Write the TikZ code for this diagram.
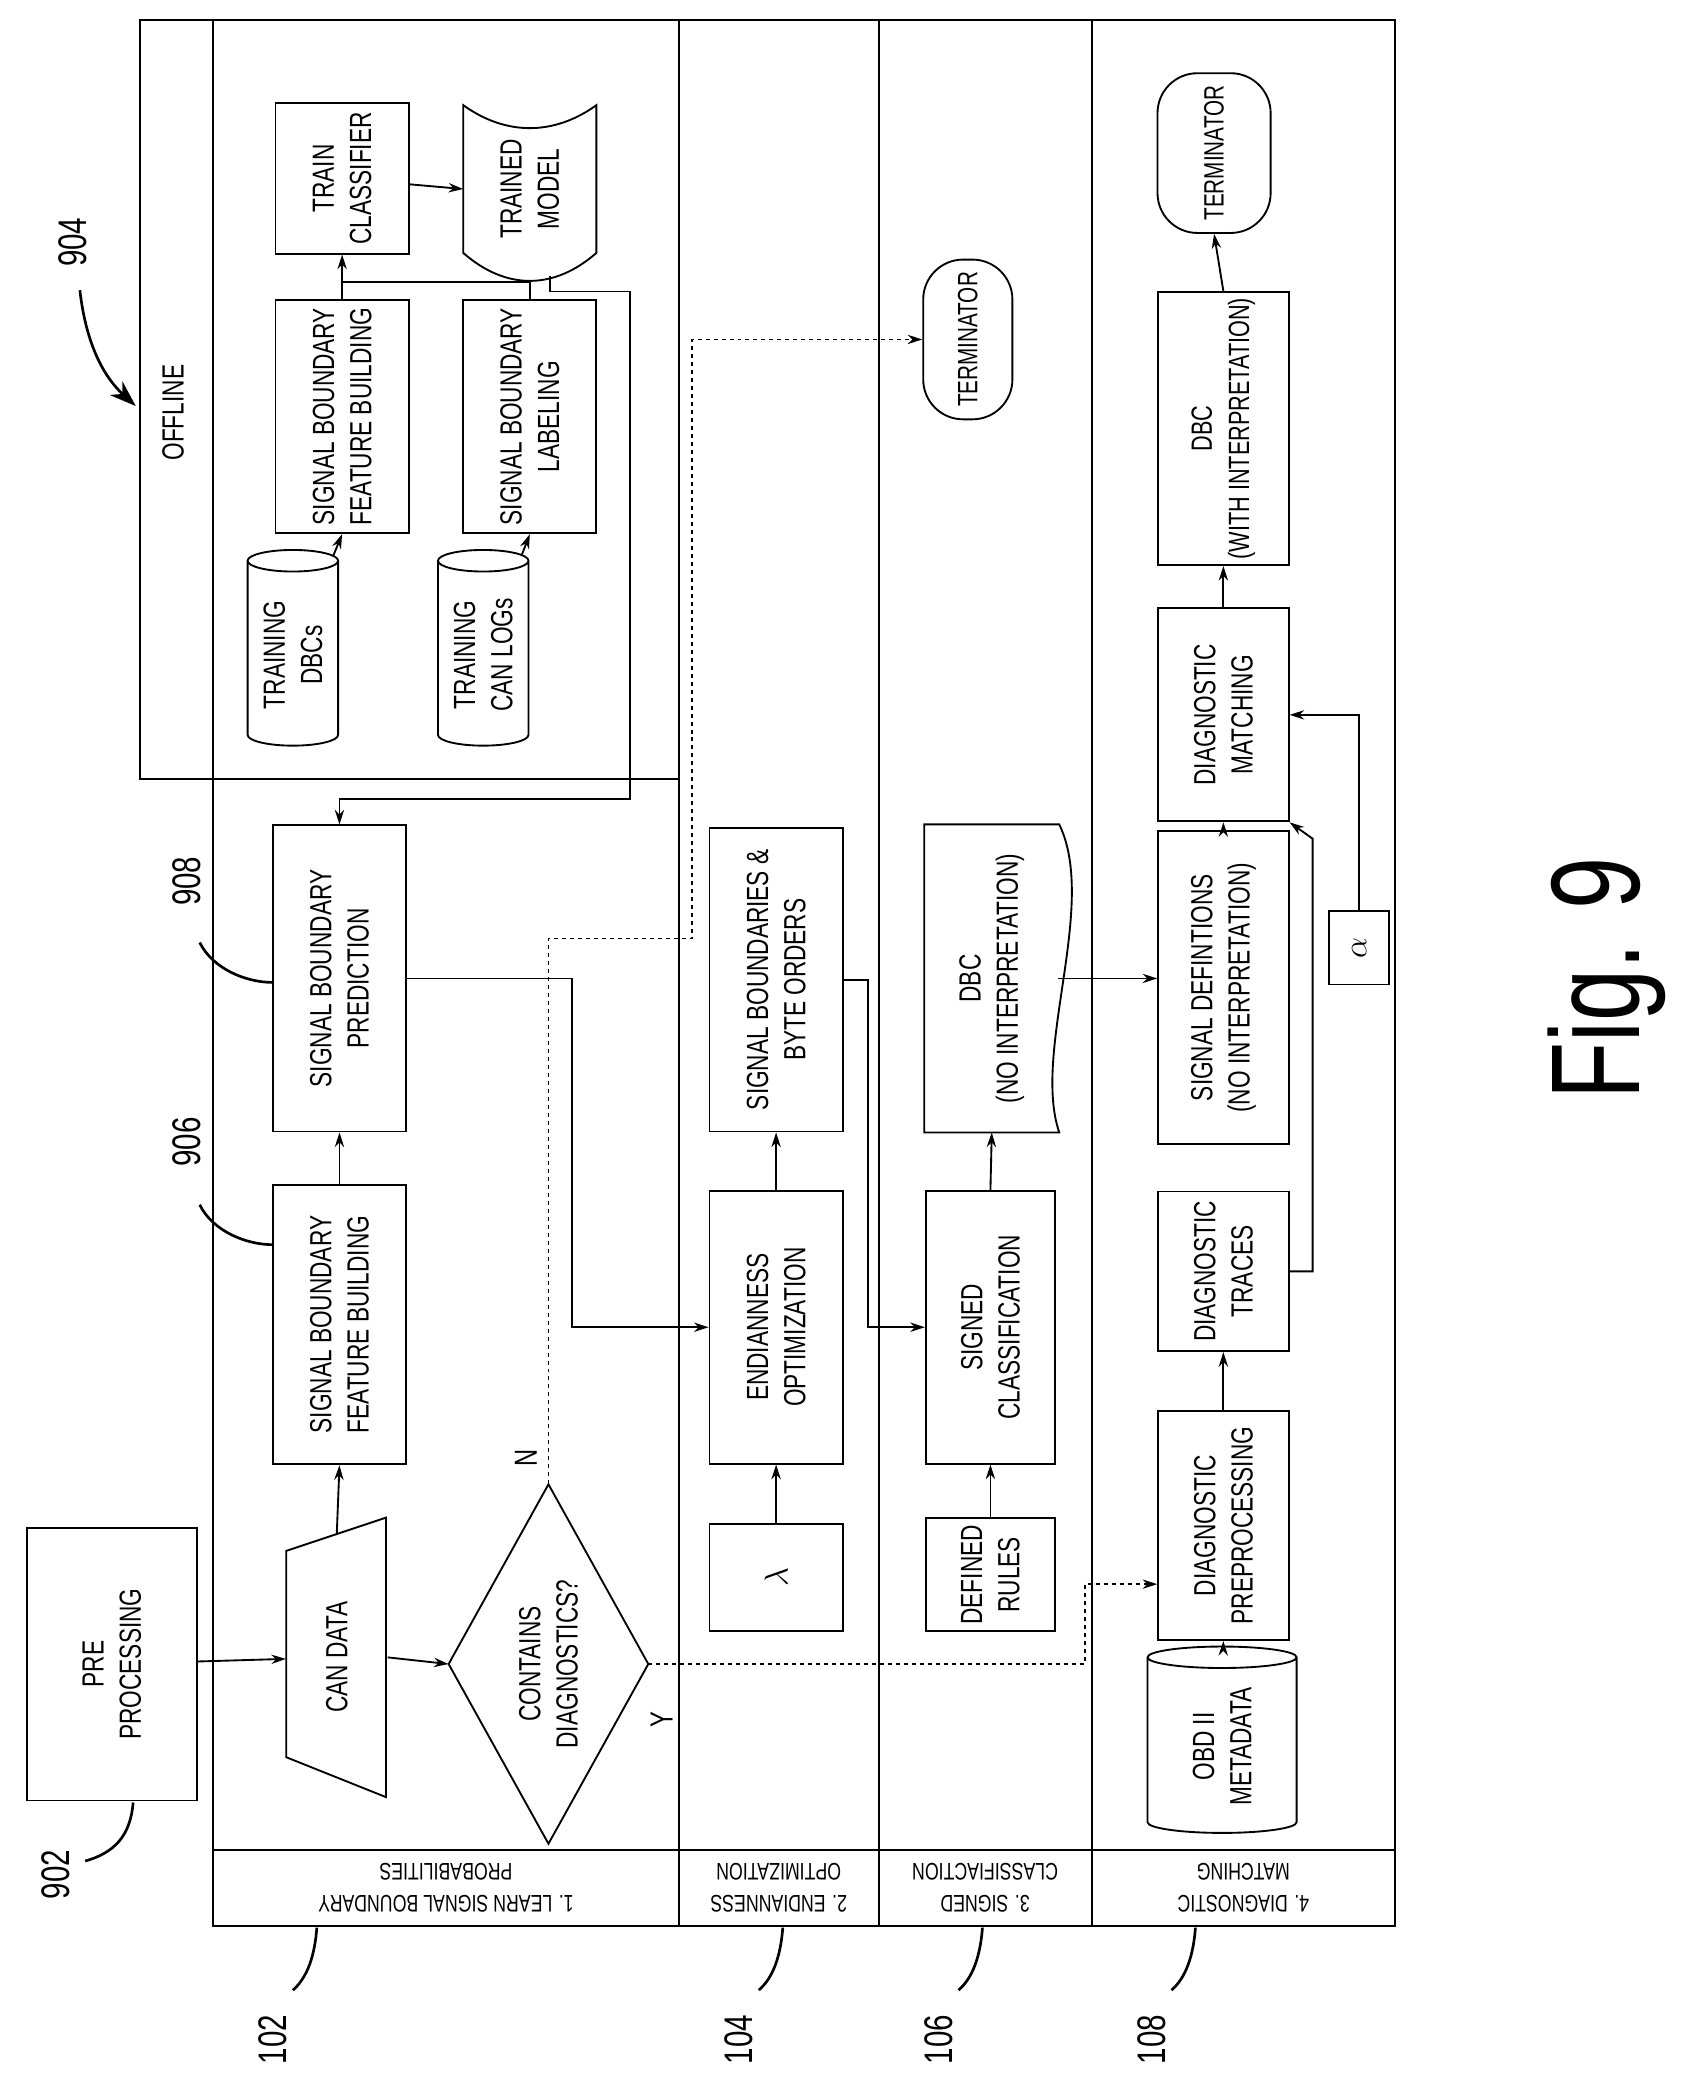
\documentclass[tikz,border=0pt]{standalone}
\usepackage{fontspec}
\newfontfamily\figfont[FakeStretch=0.74]{Liberation Sans}
\usetikzlibrary{arrows.meta}
\usetikzlibrary{shapes.geometric}
\tikzset{
  arr/.style={-{Stealth[length=11pt,width=7pt]}},
  box/.style={draw,rotate=90,align=center,inner sep=1pt,font=\figfont\fontsize{23}{28}\selectfont},
  txt/.style={rotate=90,align=center,inner sep=1pt,font=\figfont\fontsize{23}{28}\selectfont},
  db/.style={box,cylinder,aspect=0.35},
  term/.style={box,rounded corners=30pt,font=\figfont\fontsize{21}{25}\selectfont},
  lane/.style={rotate=180,align=center,font=\figfont\fontsize{18}{24}\selectfont},
  ref/.style={rotate=90,font=\figfont\fontsize{30}{30}\selectfont},
  lead/.style={line width=2pt},
}
\begin{document}
\begin{tikzpicture}[x=1pt,y=-1pt,line width=1.4pt]
\useasboundingbox (0,0) rectangle (1280,1573);
% frame and lanes
\draw (160,15) rectangle (1048,1447);
\draw (105,15) rectangle (510,585);
\draw (160,1390) -- (1048,1390);
\foreach \xl in {510,660,820} \draw (\xl,15) -- (\xl,1447);
\node[txt] (offline) at (130,310) {OFFLINE};
\node[lane] (l1) at (335,1418) {1. LEARN SIGNAL BOUNDARY\\PROBABILITIES};
\node[lane] (l2) at (585,1418) {2. ENDIANNESS\\OPTIMIZATION};
\node[lane] (l3) at (740,1418) {3. SIGNED\\CLASSIFIACTION};
\node[lane] (l4) at (934,1418) {4. DIAGNOSTIC\\MATCHING};

% lane 1
\node[box,minimum width=205pt,minimum height=128pt] (pre) at (84,1250) {PRE\\PROCESSING};
\draw (215,1165) -- (290,1140) -- (290,1350) -- (215,1320) -- cycle;
\node[txt,minimum width=185pt,minimum height=75pt] (can) at (253,1245) {CAN DATA};
\draw (412,1115) -- (487,1250) -- (412,1385) -- (337,1250) -- cycle;
\coordinate (dN) at (412,1115);
\coordinate (dY) at (487,1250);
\coordinate (dW) at (337,1250);
\node[txt] (dia) at (412,1250) {CONTAINS\\DIAGNOSTICS?};
\node[ref,font=\figfont\fontsize{24}{24}\selectfont] (nlab) at (395,1095) {N};
\node[ref,font=\figfont\fontsize{24}{24}\selectfont] (ylab) at (497,1292) {Y};
\node[box,minimum width=210pt,minimum height=100pt] (fb1) at (255,995) {SIGNAL BOUNDARY\\FEATURE BUILDING};
\node[box,minimum width=230pt,minimum height=100pt] (pred) at (255,735) {SIGNAL BOUNDARY\\PREDICTION};

% offline part
\node[db,minimum width=68pt,minimum height=147pt] (dbcs) at (220,492) {TRAINING\\DBCs};
\node[db,minimum width=68pt,minimum height=147pt] (logs) at (363,492) {TRAINING\\CAN LOGs};
\node[box,minimum width=175pt,minimum height=100pt] (fb0) at (257,313) {SIGNAL BOUNDARY\\FEATURE BUILDING};
\node[box,minimum width=175pt,minimum height=100pt] (lab) at (398,313) {SIGNAL BOUNDARY\\LABELING};
\node[box,minimum width=113pt,minimum height=100pt] (tc) at (257,134) {TRAIN\\CLASSIFIER};
\draw (348,79) .. controls (380,102) and (416,102) .. (448,79) -- (448,190)
  .. controls (416,218) and (380,218) .. (348,190) -- cycle;
\node[txt] (model) at (398,142) {TRAINED\\MODEL};
\coordinate (mb) at (413,207);
\coordinate (jn) at (325,212);
\draw[arr] (dbcs) -- (fb0.west);
\draw[arr] (logs) -- (lab.west);
\draw (fb0.east) |- (jn) -| (lab.east);
\draw[arr] (tc.west |- jn) -- (tc.west);
\draw[arr] (tc) -- (model.north -| 348,0);
\draw[arr] (mb) |- (473,219) -- (473,600) -| (pred.east);

\draw[arr] (pre) -- (can);
\draw[arr] (can.south) -- (dW);
\draw[arr] (can.east) -- (fb1.west);
\draw[arr] (fb1.east) -- (pred.west);

% lane 2
\node[box,minimum width=80pt,minimum height=100pt,font=\fontsize{30}{30}\selectfont] (lam) at (583,1185) {$\lambda$};
\node[box,minimum width=205pt,minimum height=100pt] (endian) at (583,997) {ENDIANNESS\\OPTIMIZATION};
\node[box,minimum width=228pt,minimum height=100pt] (sbbo) at (583,736) {SIGNAL BOUNDARIES \&\\BYTE ORDERS};
\draw[arr] (lam.east) -- (endian.west);
\draw[arr] (endian.east) -- (sbbo.west);
\draw[arr] (pred.south) -| (430,997) -- (endian.north);

% lane 3
\node[term,minimum width=120pt,minimum height=67pt] (term1) at (727,255) {TERMINATOR};
\node[box,minimum width=85pt,minimum height=97pt] (rules) at (744,1183) {DEFINED\\RULES};
\node[box,minimum width=205pt,minimum height=97pt] (signed) at (744,997) {SIGNED\\CLASSIFICATION};
\node[txt,minimum width=230pt,minimum height=100pt] (dbc1) at (745,735) {DBC\\(NO INTERPRETATION)};
\draw (dbc1.north west) -- (dbc1.north east) -- (dbc1.south east)
  .. controls (825,680) and (775,790) .. (dbc1.south west) -- cycle;
\draw[arr] (rules.east) -- (signed.west);
\draw[arr] (signed.east) -- (dbc1.west);
\draw[arr] (sbbo.south) -| (652,997) -- (signed.north);

% lane 4
\node[db,minimum width=112pt,minimum height=140pt] (obd) at (918,1312) {OBD II\\METADATA};
\node[box,minimum width=172pt,minimum height=98pt] (dpre) at (919,1146) {DIAGNOSTIC\\PREPROCESSING};
\node[box,minimum width=120pt,minimum height=98pt] (traces) at (919,955) {DIAGNOSTIC\\TRACES};
\node[box,minimum width=235pt,minimum height=98pt] (sdef) at (919,742) {SIGNAL DEFINTIONS\\(NO INTERPRETATION)};
\node[box,minimum width=160pt,minimum height=98pt] (match) at (919,537) {DIAGNOSTIC\\MATCHING};
\node[box,minimum width=205pt,minimum height=98pt,font=\figfont\fontsize{22}{28}\selectfont] (dbc2) at (919,322) {DBC\\(WITH INTERPRETATION)};
\node[term,minimum width=120pt,minimum height=85pt] (term2) at (912,115) {TERMINATOR};
\node[box,minimum width=55pt,minimum height=45pt,font=\fontsize{30}{30}\selectfont] (alpha) at (1021,712) {$\alpha$};
\coordinate (tk) at (986,630);
\draw[arr] (obd) -- (dpre.west);
\draw[arr] (dpre.east) -- (traces.west);
\draw[arr] (traces.south) -| (tk) -- (match.south west);
\draw[arr] (sdef.east) -- (match.west);
\draw[arr] (match.east) -- (dbc2.west);
\draw[arr] (dbc2.east) -- (term2.west);
\draw[arr] (alpha.east) |- (match.south |- 0,537);
\draw[arr] (dbc1.south -| 795,0) -- (dbc1.south -| sdef.north);

% dashed decision branches
\coordinate (yk) at (815,1190);
\draw[dashed,arr] (dN) |- (520,705) |- (term1);
\draw[dashed,arr] (dY) -| (yk) -- (yk -| dpre.north);

% reference numerals
\node[ref] (r902) at (42,1408) {902};
\draw[lead] (100,1354) .. controls (98,1380) and (85,1392) .. (64,1398);
\node[ref] (r102) at (205,1532) {102};
\draw[lead] (238,1448) .. controls (236,1475) and (228,1488) .. (220,1495);
\node[ref] (r104) at (555,1532) {104};
\draw[lead] (588,1448) .. controls (586,1475) and (578,1488) .. (570,1495);
\node[ref] (r106) at (705,1532) {106};
\draw[lead] (738,1448) .. controls (736,1475) and (728,1488) .. (720,1495);
\node[ref] (r108) at (865,1532) {108};
\draw[lead] (898,1448) .. controls (896,1475) and (888,1488) .. (880,1495);
\node[ref] (r906) at (140,858) {906};
\draw[lead] (150,905) .. controls (160,925) and (185,935) .. (205,935);
\node[ref] (r908) at (140,662) {908};
\draw[lead] (150,708) .. controls (160,728) and (185,738) .. (205,738);
\node[ref] (r904) at (55,182) {904};
\draw[lead,-{Stealth[length=20pt,width=14pt]}] (60,218) .. controls (65,262) and (80,285) .. (102,305);
\node[rotate=90,font=\figfont\fontsize{95}{95}\selectfont] (fig) at (1207,735) {Fig. 9};
\end{tikzpicture}
\end{document}
